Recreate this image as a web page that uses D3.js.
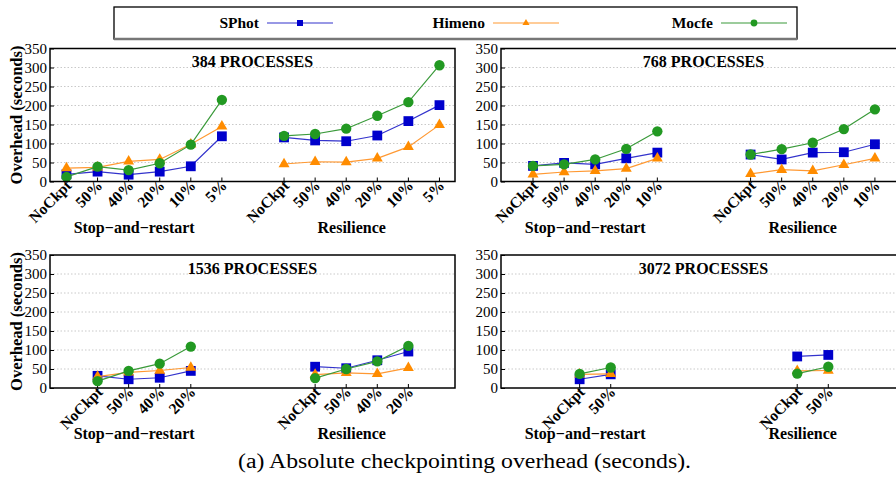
<!DOCTYPE html>
<html>
<head>
<meta charset="utf-8">
<script src="https://cdn.jsdelivr.net/npm/d3@7"></script>
<style>
  body { margin: 0; background: #fff; }
  svg { display: block; font-family: "Liberation Serif", serif; }
</style>
</head>
<body>
<svg width="896" height="480"></svg>
<script>
// series + groups
var seriesNames = ["SPhot", "Himeno", "Mocfe"];
var groupNames = ["Stop\u2212and\u2212restart", "Resilience"];
var yTicks = [0, 50, 100, 150, 200, 250, 300, 350];

var titles = ["384 PROCESSES", "768 PROCESSES", "1536 PROCESSES", "3072 PROCESSES"];
var cats384 = ["NoCkpt", "50%", "40%", "20%", "10%", "5%"];
var cats768 = ["NoCkpt", "50%", "40%", "20%", "10%"];
var cats1536 = ["NoCkpt", "50%", "40%", "20%"];
var cats3072 = ["NoCkpt", "50%"];

// [stop-and-restart, resilience]
var sphot384 = [[19, 26, 18, 26, 40, 119], [116, 108, 106, 121, 159, 201]];
var himeno384 = [[35, 37, 53, 58, 98, 145], [46, 52, 51, 61, 91, 149]];
var mocfe384 = [[12, 39, 30, 48, 97, 215], [120, 125, 139, 173, 209, 306]];

var sphot768 = [[41, 49, 45, 61, 76], [71, 58, 76, 77, 98]];
var himeno768 = [[19, 25, 28, 34, 61], [20, 31, 28, 44, 61]];
var mocfe768 = [[41, 45, 58, 86, 132], [71, 85, 102, 138, 190]];

var sphot1536 = [[32, 23, 27, 45], [56, 52, 73, 96]];
var himeno1536 = [[30, 41, 46, 54], [35, 40, 37, 53]];
var mocfe1536 = [[18, 45, 64, 109], [26, 50, 70, 111]];

var sphot3072 = [[23, 36], [83, 87]];
var himeno3072 = [[36, 37], [45, 46]];
var mocfe3072 = [[37, 54], [38, 56]];

var colors = ["#0000cc", "#ff8c00", "#229922"];
var lineColors = ["#3333cc", "#ff9933", "#3a9a3a"];
var symbols = [d3.symbolSquare, d3.symbolTriangle, d3.symbolCircle];

var panels = [
  {title: titles[0], cats: cats384, vals: [sphot384, himeno384, mocfe384], left: 50, top: 48.5, ylab: true},
  {title: titles[1], cats: cats768, vals: [sphot768, himeno768, mocfe768], left: 501, top: 48.5, ylab: false},
  {title: titles[2], cats: cats1536, vals: [sphot1536, himeno1536, mocfe1536], left: 50, top: 255, ylab: true},
  {title: titles[3], cats: cats3072, vals: [sphot3072, himeno3072, mocfe3072], left: 501, top: 255, ylab: false}
];

var svg = d3.select("svg"),
  width = 405,
  height = 133;

// category unit scale, stop group centered at 0, resilience at 7
var x = d3.scaleLinear().domain([-3.03, 10]).range([0, width]);
var y = d3.scaleLinear().domain([0, 350]).range([height, 0]);
var groupCenter = [0, 7];

function catPos(g, i, n) {
  return x(groupCenter[g] + i - (n - 1) / 2);
}

panels.forEach(function(p) {
  var g = svg.append("g").attr("transform", "translate(" + p.left + "," + p.top + ")");
  var n = p.cats.length;

  // grid
  g.selectAll(".grid")
    .data(yTicks.filter(function(d) { return d > 0 && d < 350; }))
    .enter().append("line")
    .attr("x1", 0).attr("x2", width)
    .attr("y1", function(d) { return y(d); })
    .attr("y2", function(d) { return y(d); })
    .attr("stroke", "#bbb")
    .attr("stroke-width", 0.8)
    .attr("stroke-dasharray", "1.5,2");

  // y axis labels
  var ya = g.append("g")
    .call(d3.axisLeft(y).tickValues(yTicks).tickSize(-4).tickPadding(3))
    .attr("font-family", "Liberation Serif")
    .attr("font-size", 15);
  ya.select(".domain").remove();
  ya.selectAll("line").attr("stroke", "#000");
  ya.selectAll("text").attr("fill", "#000");

  // x ticks, inward
  var tickData = [];
  groupNames.forEach(function(gn, gi) {
    p.cats.forEach(function(c, i) { tickData.push({g: gi, i: i, c: c}); });
  });
  g.selectAll(".xt")
    .data(tickData)
    .enter().append("line")
    .attr("x1", function(d) { return catPos(d.g, d.i, n); })
    .attr("x2", function(d) { return catPos(d.g, d.i, n); })
    .attr("y1", height).attr("y2", height - 4)
    .attr("stroke", "#000");

  g.selectAll(".xl")
    .data(tickData)
    .enter().append("text")
    .attr("transform", function(d) {
      return "translate(" + (catPos(d.g, d.i, n) + 6) + "," + (height + 5) + ") rotate(-45)";
    })
    .attr("text-anchor", "end")
    .style("font-weight", "bold")
    .style("font-size", "15.5px")
    .text(function(d) { return d.c; });

  // group labels
  groupNames.forEach(function(gn, gi) {
    g.append("text")
      .attr("x", x(groupCenter[gi]) - 10)
      .attr("y", height + 51)
      .attr("text-anchor", "middle")
      .style("font-weight", "bold")
      .style("font-size", "16px")
      .text(gn);
  });

  // title
  g.append("text")
    .attr("x", width / 2)
    .attr("y", 18.5)
    .attr("text-anchor", "middle")
    .style("font-weight", "bold")
    .style("font-size", "16px")
    .text(p.title);

  if (p.ylab) {
    g.append("text")
      .attr("transform", "translate(-28," + (height / 2) + ") rotate(-90)")
      .attr("text-anchor", "middle")
      .style("font-weight", "bold")
      .style("font-size", "16.5px")
      .text("Overhead (seconds)");
  }

  // series
  var line = d3.line()
    .x(function(d) { return d.x; })
    .y(function(d) { return y(d.v); });

  p.vals.forEach(function(sv, si) {
    sv.forEach(function(vals, gi) {
      var pts = vals.map(function(v, i) { return {x: catPos(gi, i, n), v: v}; });
      g.append("path")
        .datum(pts)
        .attr("fill", "none")
        .attr("stroke", lineColors[si])
        .attr("stroke-width", 1.2)
        .attr("d", line);
      g.selectAll(".m" + si + gi)
        .data(pts)
        .enter().append("path")
        .attr("d", d3.symbol().type(symbols[si]).size(si == 0 ? 96 : (si == 1 ? 52 : 84)))
        .attr("transform", function(d) { return "translate(" + d.x + "," + y(d.v) + ")"; })
        .attr("fill", colors[si]);
    });
  });

  // border
  g.append("rect")
    .attr("width", width).attr("height", height)
    .attr("fill", "none")
    .attr("stroke", "#000")
    .attr("stroke-width", 1.5);
});

// legend
var leg = svg.append("g");
leg.append("rect")
  .attr("x", 114).attr("y", 7).attr("width", 683).attr("height", 32)
  .attr("fill", "#fff").attr("stroke", "#000").attr("stroke-width", 1.3);
leg.append("line")
  .attr("x1", 114).attr("x2", 797).attr("y1", 39).attr("y2", 39)
  .attr("stroke", "#777").attr("stroke-width", 2.5);
var legEnds = [259, 485, 713];
seriesNames.forEach(function(s, i) {
  var lg = leg.append("g").attr("transform", "translate(" + legEnds[i] + ",23)");
  lg.append("text")
    .attr("text-anchor", "end")
    .attr("dy", "0.35em")
    .style("font-weight", "bold")
    .style("font-size", "15.5px")
    .text(s);
  lg.append("line")
    .attr("x1", 8).attr("x2", 74)
    .attr("stroke", lineColors[i]).attr("stroke-width", 1.2);
  lg.append("path")
    .attr("d", d3.symbol().type(symbols[i]).size(i == 0 ? 36 : (i == 1 ? 22 : 36)))
    .attr("transform", "translate(41,0)")
    .attr("fill", colors[i]);
});

// caption
svg.append("text")
  .attr("x", 238)
  .attr("y", 468)
  .attr("textLength", 453)
  .attr("lengthAdjust", "spacingAndGlyphs")
  .style("font-size", "20px")
  .text("(a) Absolute checkpointing overhead (seconds).");
</script>
</body>
</html>
